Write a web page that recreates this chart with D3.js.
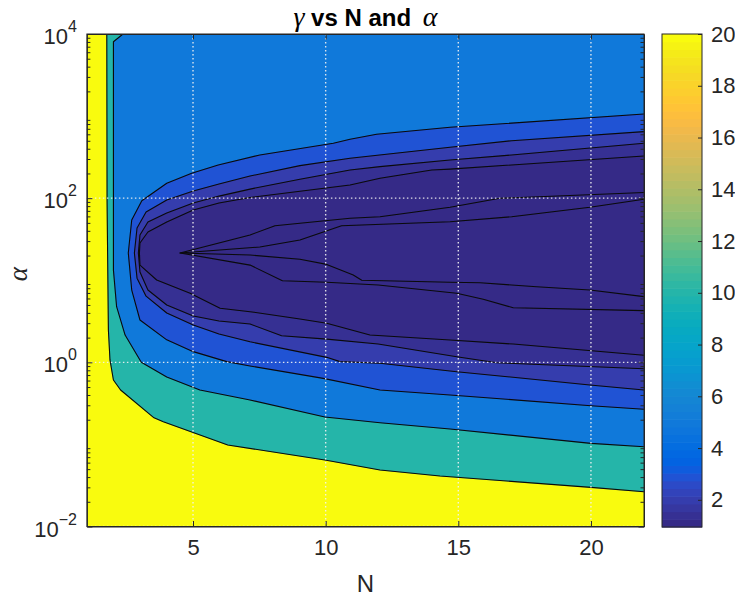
<!DOCTYPE html>
<html>
<head>
<meta charset="utf-8">
<script src="https://cdn.jsdelivr.net/npm/d3@7"></script>
<style>
  body { margin: 0; background: #ffffff; }
  svg { display: block; font-family: "Liberation Sans", Arial, Helvetica, sans-serif; }
</style>
</head>
<body>
<svg id="chart" width="735" height="601"></svg>
<script>
// ---- data -------------------------------------------------------------
const nRange = [1, 22];
const alphaRange = [1e-2, 1e4];
const gammaRange = [0.95, 20];          // colour limits
const levels = [1.1, 1.2, 1.5, 2, 3, 5, 10, 20];

const xTicks = [5, 10, 15, 20];
const yTicks = [1e-2, 1e0, 1e2, 1e4];
const yTickExponents = ["-2", "0", "2", "4"];
const cbTicks = [2, 4, 6, 8, 10, 12, 14, 16, 18, 20];

// iso-lines of gamma, points are [N, alpha]
const contour20 = [[1.75,1e4],[1.76,95],[1.81,2.48],[1.87,1.07],[2.0,0.609],[2.27,0.46],[3.53,0.211],[3.88,0.189],[6.31,0.0984],[9.97,0.0646],[12.05,0.0488],[14.31,0.0412],[20,0.03],[22,0.0265]];
const contour10 = [[2.36,1e4],[2.0,8054],[2.0,13.3],[2.12,4.76],[2.44,2.15],[3.05,1.0],[4.01,0.662],[5.26,0.46],[7.15,0.348],[9.97,0.216],[12.05,0.184],[14.69,0.154],[20,0.103],[22,0.0938]];
const contour5 = [[22,1060],[14.69,730],[11.92,600],[10.92,521],[10.29,466],[7.52,336],[5.95,254],[4.95,201],[4.01,152],[3.07,93.1],[2.69,54.2],[2.56,21.5],[2.69,7.6],[3.0,3.28],[4.01,1.88],[5.01,1.35],[6.27,1.02],[7.15,0.902],[9.91,0.638],[12.05,0.46],[14.69,0.4],[20,0.296],[22,0.268]];
const contour3 = [[22,646],[17.01,501],[14.69,417],[10.92,306],[9.03,249],[7.15,186],[5.98,149],[5.01,122],[4.01,95],[3.23,67.8],[2.89,43.3],[2.79,21.5],[2.89,10.6],[3.23,6.4],[4.01,3.99],[5.01,2.85],[5.98,2.21],[7.15,1.78],[10.04,1.15],[10.54,1.02],[12.05,0.973],[14.94,0.769],[19.96,0.53],[22,0.46]];
const contour2 = [[22,466],[17.01,336],[14.69,292],[12.05,242],[10.92,220],[9.03,170],[7.15,129],[5.98,106],[5.01,87.3],[4.01,65.9],[3.3,51.3],[3.0,35.6],[2.94,21.5],[3.0,12.6],[3.3,7.6],[4.01,4.99],[5.01,3.66],[5.98,3.19],[7.15,2.93],[8.34,2.11],[10.04,1.92],[11.98,1.67],[14.94,1.17],[16.45,0.989],[22,0.836]];
const contour15 = [[22,326],[14.69,226],[14.0,220],[12.05,175],[10.92,145],[7.15,102],[5.98,87.3],[5.01,71.8],[4.01,51.3],[3.3,38.7],[3.0,28.4],[2.98,21.5],[3.0,15.3],[3.63,10.07],[4.89,6.93],[6.02,4.55],[7.15,4.14],[9.03,3.37],[10.04,2.99],[11.67,2.15],[14.69,1.87],[17.07,1.67],[22,1.22]];
const contour12 = [[22,117],[16.57,99.6],[14.69,77.4],[12.05,59.4],[10.92,56.9],[9.03,49.4],[8.09,46.1],[7.15,35.6],[4.51,21.5],[7.15,15.3],[8.37,9.87],[10.04,9.44],[11.98,8.75],[14.94,6.93],[15.94,5.86],[17.07,4.62],[22,4.26]];
const contour11 = [[22,96.9],[19.96,77.4],[17.01,59.4],[14.69,51.6],[10.6,46.1],[9.03,30.9],[7.52,25.4],[4.51,21.5],[7.15,20.3],[9.03,18],[10.04,15.6],[11.04,11.6],[11.36,10],[14.69,9.44],[15.82,9.33],[17.95,8.34],[19.96,7.6],[22,6.31]];

const contourLines = [contour11, contour12, contour15, contour2, contour3, contour5, contour10, contour20];

// parula colour map, 64 entries
const parula = [
[0.2081,0.1663,0.5292],[0.2116,0.1898,0.5777],[0.2123,0.2138,0.6270],[0.2081,0.2386,0.6771],
[0.1959,0.2645,0.7279],[0.1707,0.2919,0.7792],[0.1253,0.3242,0.8303],[0.0591,0.3598,0.8683],
[0.0117,0.3875,0.8820],[0.0060,0.4086,0.8828],[0.0165,0.4266,0.8786],[0.0329,0.4430,0.8720],
[0.0498,0.4586,0.8641],[0.0629,0.4737,0.8554],[0.0723,0.4887,0.8467],[0.0779,0.5040,0.8384],
[0.0793,0.5200,0.8312],[0.0749,0.5375,0.8263],[0.0641,0.5570,0.8240],[0.0488,0.5772,0.8228],
[0.0343,0.5966,0.8199],[0.0265,0.6137,0.8135],[0.0239,0.6287,0.8038],[0.0231,0.6418,0.7913],
[0.0228,0.6535,0.7768],[0.0267,0.6642,0.7607],[0.0384,0.6743,0.7436],[0.0590,0.6838,0.7254],
[0.0843,0.6928,0.7062],[0.1133,0.7015,0.6859],[0.1453,0.7098,0.6646],[0.1801,0.7177,0.6424],
[0.2178,0.7250,0.6193],[0.2586,0.7317,0.5954],[0.3022,0.7376,0.5712],[0.3482,0.7424,0.5473],
[0.3953,0.7459,0.5244],[0.4420,0.7481,0.5033],[0.4871,0.7491,0.4840],[0.5300,0.7491,0.4661],
[0.5709,0.7485,0.4494],[0.6099,0.7473,0.4337],[0.6473,0.7456,0.4188],[0.6834,0.7435,0.4044],
[0.7184,0.7411,0.3905],[0.7525,0.7384,0.3768],[0.7858,0.7356,0.3633],[0.8185,0.7327,0.3498],
[0.8507,0.7299,0.3360],[0.8824,0.7274,0.3217],[0.9139,0.7258,0.3063],[0.9450,0.7261,0.2886],
[0.9739,0.7314,0.2666],[0.9938,0.7455,0.2403],[0.9990,0.7653,0.2164],[0.9955,0.7861,0.1967],
[0.9880,0.8066,0.1794],[0.9789,0.8271,0.1633],[0.9697,0.8481,0.1475],[0.9626,0.8705,0.1309],
[0.9589,0.8949,0.1132],[0.9598,0.9218,0.0948],[0.9661,0.9514,0.0755],[0.9763,0.9831,0.0538]
].map(c => d3.rgb(c[0]*255, c[1]*255, c[2]*255).formatHex());

// ---- layout -----------------------------------------------------------
const plot = { left: 86.9, right: 644, top: 34, bottom: 526.5 };
const cbBox = { left: 662, right: 702, top: 34, bottom: 527 };
const axisColor = "#262626";
const tickFont = 22;
const greekFont = "\"Liberation Serif\", \"DejaVu Serif\", serif";

const svg = d3.select("#chart");

const x = d3.scaleLinear().domain(nRange).range([plot.left, plot.right]);
const y = d3.scaleLog().domain(alphaRange).range([plot.bottom, plot.top]);

// discrete colour lookup, like an indexed colour map
const colorIndex = d3.scaleQuantize().domain(gammaRange).range(d3.range(parula.length));
const colorOf = v => parula[colorIndex(Math.min(Math.max(v, gammaRange[0]), gammaRange[1] - 1e-9))];

svg.append("clipPath").attr("id", "plotClip")
  .append("rect")
  .attr("x", plot.left).attr("y", plot.top)
  .attr("width", plot.right - plot.left).attr("height", plot.bottom - plot.top);

const fills = svg.append("g").attr("clip-path", "url(#plotClip)");

// everything above the highest level
fills.append("rect")
  .attr("x", plot.left).attr("y", plot.top)
  .attr("width", plot.right - plot.left).attr("height", plot.bottom - plot.top)
  .attr("fill", colorOf(levels[levels.length - 1]));

// region below each level, from the highest level inwards
const line = d3.line().x(d => x(d[0])).y(d => y(d[1]));
for (let k = levels.length - 1; k >= 0; k--) {
  const pts = contourLines[k].slice();
  if (pts[0][1] >= alphaRange[1]) pts.push([nRange[1], alphaRange[1]]);   // close through top-right corner
  const below = k > 0 ? levels[k - 1] : gammaRange[0];
  fills.append("path")
    .attr("d", line(pts) + "Z")
    .attr("fill", colorOf(below))
    .attr("stroke", colorOf(below))
    .attr("stroke-width", 0.5);
}

// grid lines (dotted)
const grid = svg.append("g").attr("clip-path", "url(#plotClip)")
  .attr("stroke", "#f2f2f2").attr("stroke-opacity", 0.9)
  .attr("stroke-width", 1.4).attr("stroke-dasharray", "1.5,2.5");
grid.selectAll("line.gx").data(xTicks).join("line")
  .attr("x1", d => x(d)).attr("x2", d => x(d))
  .attr("y1", plot.top).attr("y2", plot.bottom);
grid.selectAll("line.gy").data(yTicks).join("line")
  .attr("y1", d => y(d)).attr("y2", d => y(d))
  .attr("x1", plot.left).attr("x2", plot.right);

// contour lines
fills.append("g").selectAll("path").data(contourLines).join("path")
  .attr("d", d => line(d))
  .attr("fill", "none")
  .attr("stroke", "#0a0a0a")
  .attr("stroke-width", 1.1)
  .attr("stroke-linejoin", "round");

// ---- axes -------------------------------------------------------------
const minorY = [];
for (let e = -2; e < 4; e++) for (let m = 2; m <= 9; m++) minorY.push(m * Math.pow(10, e));

function styleAxis(g) {
  g.selectAll("path, line").attr("stroke", axisColor).attr("stroke-width", 1);
  g.selectAll("text").attr("fill", axisColor).attr("font-size", tickFont)
    .attr("font-family", "\"Liberation Sans\", Arial, sans-serif");
}

// bottom
svg.append("g").attr("transform", `translate(0,${plot.bottom})`)
  .call(d3.axisBottom(x).tickValues(xTicks).tickSizeInner(-5.5).tickSizeOuter(0).tickPadding(13))
  .call(styleAxis)
  .call(g => g.selectAll("text").attr("dy", "0.71em"));
// top
svg.append("g").attr("transform", `translate(0,${plot.top})`)
  .call(d3.axisTop(x).tickValues(xTicks).tickSizeInner(-5.5).tickSizeOuter(0).tickFormat(""))
  .call(styleAxis);
// left major + minor
svg.append("g").attr("transform", `translate(${plot.left},0)`)
  .call(d3.axisLeft(y).tickValues(yTicks).tickSizeInner(-5.5).tickSizeOuter(0).tickFormat(""))
  .call(styleAxis);
svg.append("g").attr("transform", `translate(${plot.left},0)`)
  .call(d3.axisLeft(y).tickValues(minorY).tickSizeInner(-3.5).tickSizeOuter(0).tickFormat(""))
  .call(styleAxis).call(g => g.select(".domain").remove());
// right major + minor
svg.append("g").attr("transform", `translate(${plot.right},0)`)
  .call(d3.axisRight(y).tickValues(yTicks).tickSizeInner(-5.5).tickSizeOuter(0).tickFormat(""))
  .call(styleAxis);
svg.append("g").attr("transform", `translate(${plot.right},0)`)
  .call(d3.axisRight(y).tickValues(minorY).tickSizeInner(-3.5).tickSizeOuter(0).tickFormat(""))
  .call(styleAxis).call(g => g.select(".domain").remove());

// y tick labels 10^k
const yLab = svg.append("g").attr("fill", axisColor).attr("text-anchor", "end");
yTicks.forEach((v, i) => {
  const t = yLab.append("text")
    .attr("x", plot.left - 10).attr("y", y(v) + 10)
    .attr("font-size", tickFont);
  t.append("tspan").text("10");
  t.append("tspan").attr("dy", -12).attr("font-size", 16).text(yTickExponents[i].replace("-", "\u2212"));
});

// axis labels and title
svg.append("text")
  .attr("x", (plot.left + plot.right) / 2).attr("y", 592)
  .attr("text-anchor", "middle").attr("font-size", 24).attr("fill", axisColor)
  .text("N");

svg.append("text")
  .attr("transform", `translate(27,${(plot.top + plot.bottom) / 2 - 6}) rotate(-90)`)
  .attr("text-anchor", "middle").attr("font-size", 27).attr("fill", axisColor)
  .attr("font-family", greekFont).attr("font-style", "italic")
  .text("\u03B1");

const title = svg.append("text")
  .attr("x", (plot.left + plot.right) / 2).attr("y", 26)
  .attr("text-anchor", "middle").attr("font-size", 24).attr("fill", "#000");
title.append("tspan").attr("font-family", greekFont).attr("font-style", "italic").attr("font-size", 28).text("\u03B3");
title.append("tspan").attr("font-weight", "bold").text(" vs N and ");
title.append("tspan").attr("dx", 5).attr("font-family", greekFont).attr("font-style", "italic").attr("font-size", 28).text("\u03B1");

// ---- colour bar -------------------------------------------------------
const cb = d3.scaleLinear().domain(gammaRange).range([cbBox.bottom, cbBox.top]);
const step = (gammaRange[1] - gammaRange[0]) / parula.length;
svg.append("g").selectAll("rect").data(parula).join("rect")
  .attr("x", cbBox.left).attr("width", cbBox.right - cbBox.left)
  .attr("y", (c, i) => cb(gammaRange[0] + (i + 1) * step))
  .attr("height", (c, i) => cb(gammaRange[0] + i * step) - cb(gammaRange[0] + (i + 1) * step) + 0.6)
  .attr("fill", c => c);

svg.append("g").attr("transform", `translate(${cbBox.right},0)`)
  .call(d3.axisRight(cb).tickValues(cbTicks).tickSizeInner(-4).tickSizeOuter(0).tickPadding(9))
  .call(styleAxis)
  .call(g => g.select(".domain").remove());

svg.append("rect")
  .attr("x", cbBox.left).attr("y", cbBox.top)
  .attr("width", cbBox.right - cbBox.left).attr("height", cbBox.bottom - cbBox.top)
  .attr("fill", "none").attr("stroke", axisColor).attr("stroke-width", 1);

// plot box
svg.append("rect")
  .attr("x", plot.left).attr("y", plot.top)
  .attr("width", plot.right - plot.left).attr("height", plot.bottom - plot.top)
  .attr("fill", "none").attr("stroke", axisColor).attr("stroke-width", 1);
</script>
</body>
</html>
